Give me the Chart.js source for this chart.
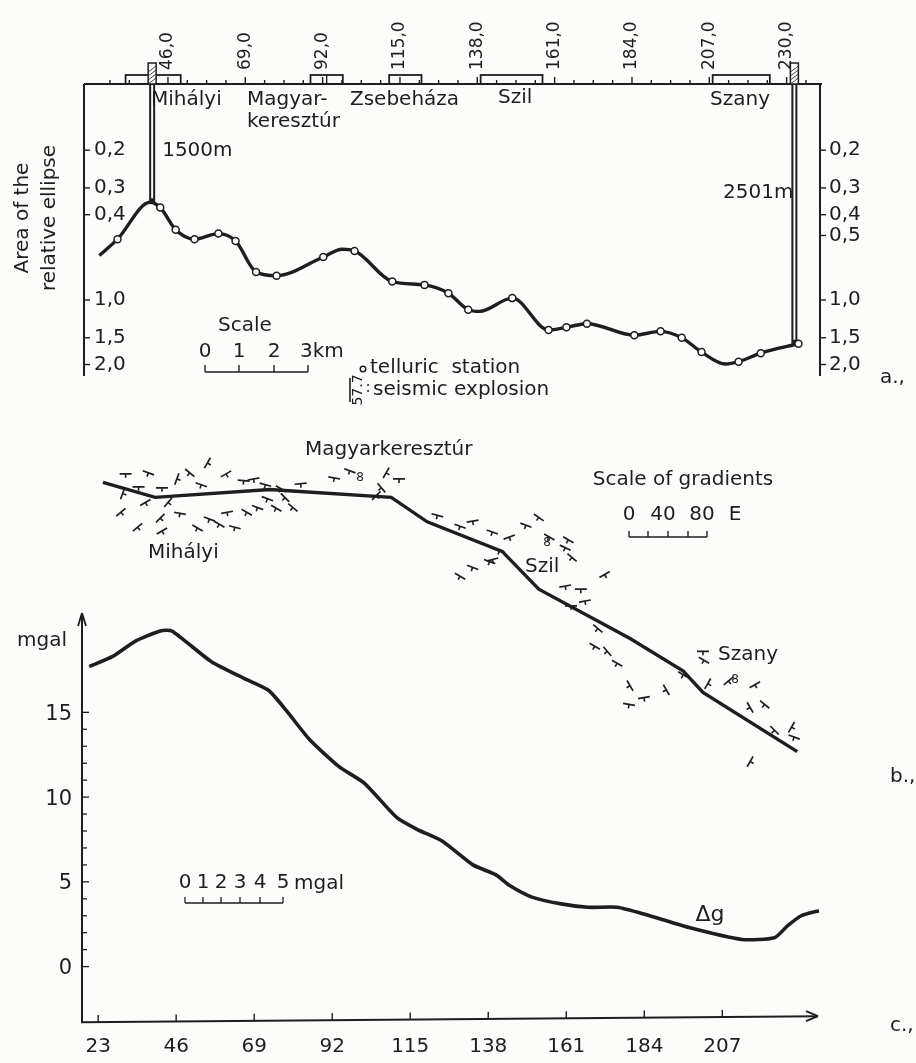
<!DOCTYPE html>
<html>
<head>
<meta charset="utf-8">
<script src="https://cdn.jsdelivr.net/npm/chart.js@4.4.0/dist/chart.umd.min.js"></script>
<style>
  html, body { margin: 0; padding: 0; background: #fcfcfb; }
  #wrap { width: 916px; height: 1063px; }
</style>
</head>
<body>
<div id="wrap"><canvas id="myChart" width="916" height="1063"></canvas></div>
<script>
// a) area of the relative ellipse along the profile (stations, station distance units)
var profileX = [25.6, 31.0, 40.7, 43.7, 48.3, 53.9, 61.0, 66.1, 72.2, 78.3, 92.2, 97.8, 101.5, 112.7, 122.3,
    129.4, 135.3, 138.7, 148.4, 159.2, 164.5, 170.6, 184.7, 192.5, 198.8, 204.7, 211.8, 215.7, 222.3, 233.5];
var profileArea = [0.62, 0.52, 0.35, 0.37, 0.47, 0.52, 0.49, 0.53, 0.74, 0.77, 0.63, 0.58, 0.59, 0.82, 0.85,
    0.93, 1.11, 1.13, 0.98, 1.38, 1.34, 1.29, 1.46, 1.40, 1.50, 1.75, 1.99, 1.94, 1.77, 1.60];
var isStation = [0, 1, 0, 1, 1, 1, 1, 1, 1, 1, 1, 0, 1, 1, 1, 1, 1, 0, 1, 1, 1, 1, 1, 1, 1, 1, 0, 1, 1, 1];
var topTicks = [46, 69, 92, 115, 138, 161, 184, 207, 230];
var topTickLabels = ['46,0', '69,0', '92,0', '115,0', '138,0', '161,0', '184,0', '207,0', '230,0'];
var leftTicks = [0.2, 0.3, 0.4, 1.0, 1.5, 2.0];
var leftTickLabels = ['0,2', '0,3', '0,4', '1,0', '1,5', '2,0'];
var rightTicks = [0.2, 0.3, 0.4, 0.5, 1.0, 1.5, 2.0];
var rightTickLabels = ['0,2', '0,3', '0,4', '0,5', '1,0', '1,5', '2,0'];
var siteStart = [33.4, 88.4, 111.8, 139.0, 208.0];
var siteEnd = [49.8, 98.0, 121.4, 157.4, 225.0];
var wellX = [41.3, 232.3];
var wellBottom = [0.35, 1.6];
var wellLabels = ['1500m', '2501m'];

// b) line of the gradient map and gradient marks
var gradLineX = [24.4, 39.8, 73.6, 81.3, 109.4, 120.0, 142.1, 152.9, 179.8, 195.5, 201.3, 229.1];
var gradLineY = [160.4, 156.0, 158.3, 157.8, 156.0, 148.8, 140.1, 129.0, 114.5, 104.9, 98.6, 81.2];
var gradX = [31.1, 37.8, 34.9, 41.8, 46.2, 50.0, 55.2, 60.7, 53.4, 65.9, 72.3, 82.7, 76.9, 68.8,
    30.2, 29.7, 36.9, 43.6, 34.6, 41.3, 41.8, 47.1, 52.3, 55.8, 58.7, 63.3, 61.0, 66.8, 70.0, 75.5, 80.4, 72.9, 78.1,
    92.6, 97.2, 107.9, 111.7, 106.5, 105.0,
    123.0, 129.7, 133.4, 139.2, 144.2, 129.7, 133.4, 139.2, 141.3,
    149.1, 152.9, 156.0, 161.6, 160.7, 162.7, 172.3, 138.4, 160.7, 165.3, 166.5, 162.4, 170.3,
    169.4, 173.1, 176.0, 179.8, 183.9, 179.5, 190.5, 195.5, 201.3, 201.6, 208.8, 216.6, 215.2, 219.5, 222.4,
    227.4, 228.2, 215.2, 202.7];
var gradY = [162.9, 163.2, 159.1, 158.8, 161.4, 163.2, 166.1, 162.9, 159.7, 160.9, 159.7, 160.0, 158.5, 161.4,
    157.1, 151.6, 154.5, 154.5, 147.2, 149.9, 146.1, 151.3, 147.0, 149.6, 148.1, 147.2, 151.6, 151.6, 153.0, 152.8, 153.0, 155.6, 155.9,
    161.7, 163.8, 163.2, 161.4, 158.8, 156.5,
    150.7, 147.5, 149.0, 145.8, 144.3, 132.8, 135.4, 137.7, 140.3,
    147.8, 150.1, 144.3, 143.5, 141.2, 138.3, 133.3, 137.1, 129.9, 129.0, 125.5, 124.1, 117.4,
    112.2, 110.7, 107.2, 100.6, 97.1, 95.1, 99.4, 103.8, 110.7, 108.1, 102.0, 100.9, 94.2, 95.1, 87.5,
    88.4, 85.5, 78.3, 101.2];
var gradAngle = [0, 20, 0, 0, -70, 40, -60, -30, 20, 5, 15, -5, 30, -10,
    -70, -40, -30, -50, -40, -45, -30, 10, 30, 20, 30, 15, -10, 30, 20, 30, 40, 20, 45,
    10, 20, -60, 0, 50, -45,
    15, 20, -10, 20, -20, 30, 20, -15, 20,
    20, 35, 30, 30, 25, 40, -30, 20, -10, 0, -10, 0, 40,
    30, 50, 30, 60, -10, 10, 60, 30, 0, 30, -40, -30, 60, 40, 45,
    -60, 20, -60, -60];

// c) gravity anomaly
var gravX = [20.4, 27.3, 34.0, 41.3, 44.7, 56.3, 66.0, 73.2, 78.5, 85.3, 94.0, 101.6, 111.0, 117.0, 124.5,
    133.5, 140.4, 144.2, 150.9, 159.5, 167.4, 176.0, 183.9, 197.2, 212.8, 222.4, 226.2, 230.3, 235.5];
var gravMgal = [17.7, 18.3, 19.2, 19.8, 19.8, 18.0, 17.0, 16.3, 15.1, 13.4, 11.8, 10.8, 8.8, 8.1, 7.4,
    6.0, 5.4, 4.8, 4.1, 3.7, 3.5, 3.5, 3.1, 2.3, 1.6, 1.7, 2.4, 3.0, 3.3];
var gravTicks = [23, 46, 69, 92, 115, 138, 161, 184, 207];
var mgalTicks = [0, 5, 10, 15];

var INK = '#1e1e1e';
var FONT = '"DejaVu Sans", sans-serif';

function pts(xs, ys) {
    return xs.map(function (x, i) { return { x: x, y: ys[i] }; });
}

function seg(c, x1, y1, x2, y2, w) {
    c.lineWidth = w;
    c.beginPath();
    c.moveTo(x1, y1);
    c.lineTo(x2, y2);
    c.stroke();
}

function txt(c, s, x, y, size, align) {
    c.font = size + 'px ' + FONT;
    c.textAlign = align || 'left';
    c.textBaseline = 'middle';
    c.fillText(s, x, y);
}

var decor = {
    id: 'decor',
    beforeDatasetsDraw: function (chart) {
        var c = chart.ctx, s = chart.scales;
        var xa = s.xa, ya = s.ya, xc = s.xc, yc = s.yc;
        c.save();
        c.strokeStyle = INK;
        c.fillStyle = INK;

        // ---- panel a
        var topY = 84, leftX = 84, rightX = 820, bottomA = 376;
        seg(c, leftX, topY, xa.getPixelForValue(240.5), topY, 2);
        seg(c, leftX, topY, leftX, bottomA, 2);
        seg(c, rightX, topY, rightX, bottomA, 2);
        for (var v = 28.75; v < 238; v += 5.75) {
            var major = Math.abs(v / 23 - Math.round(v / 23)) < 1e-6;
            var px = xa.getPixelForValue(v);
            seg(c, px, topY, px, topY - (major ? 7 : 4), 1.4);
        }
        topTicks.forEach(function (t, i) {
            c.save();
            c.translate(xa.getPixelForValue(t), 70);
            c.rotate(-Math.PI / 2);
            txt(c, topTickLabels[i], 0, 0, 17, 'left');
            c.restore();
        });
        siteStart.forEach(function (a, i) {
            var x1 = xa.getPixelForValue(a), x2 = xa.getPixelForValue(siteEnd[i]);
            c.lineWidth = 1.8;
            c.strokeRect(x1, 75, x2 - x1, topY - 75);
            if (i === 1) seg(c, (x1 + x2) / 2, 75, (x1 + x2) / 2, topY, 1.4);
        });
        wellX.forEach(function (w, i) {
            var px = xa.getPixelForValue(w);
            var by = ya.getPixelForValue(wellBottom[i]);
            c.fillStyle = '#fcfcfb';
            c.fillRect(px - 4, 63, 8, topY - 63);
            c.lineWidth = 1.5;
            c.strokeRect(px - 4, 63, 8, topY - 63);
            c.fillStyle = INK;
            for (var k = 0; k < 4; k++) seg(c, px - 4, 72 + k * 4, px + 4, 66 + k * 4, 0.8);
            seg(c, px, topY, px, by, 6);
            c.strokeStyle = '#fcfcfb';
            seg(c, px, topY + 1, px, by - 4, 2);
            c.strokeStyle = INK;
        });
        txt(c, wellLabels[0], xa.getPixelForValue(wellX[0]) + 10, 151, 20);
        txt(c, wellLabels[1], xa.getPixelForValue(wellX[1]) - 1, 193, 20, 'right');
        leftTicks.forEach(function (t, i) {
            var py = ya.getPixelForValue(t);
            seg(c, leftX, py, leftX + 6, py, 1.4);
            txt(c, leftTickLabels[i], leftX + 10, py, 20);
        });
        rightTicks.forEach(function (t, i) {
            var py = ya.getPixelForValue(t);
            seg(c, rightX, py, rightX + 6, py, 1.4);
            txt(c, rightTickLabels[i], rightX + 9, py, 20);
        });
        c.save();
        c.translate(23, 218);
        c.rotate(-Math.PI / 2);
        txt(c, 'Area of the', 0, 0, 20, 'center');
        txt(c, 'relative ellipse', 0, 27, 20, 'center');
        c.restore();
        txt(c, 'Mihályi', 151, 100, 20);
        txt(c, 'Magyar-', 247, 100, 20);
        txt(c, 'keresztúr', 247, 122, 20);
        txt(c, 'Zsebeháza', 350, 100, 20);
        txt(c, 'Szil', 498, 98, 20);
        txt(c, 'Szany', 710, 100, 20);
        // scale bar
        txt(c, 'Scale', 245, 326, 20, 'center');
        txt(c, '0', 205, 352, 20, 'center');
        txt(c, '1', 239, 352, 20, 'center');
        txt(c, '2', 274, 352, 20, 'center');
        txt(c, '3km', 300, 352, 20);
        seg(c, 205, 372, 308, 372, 1.6);
        [205, 239, 274, 308].forEach(function (x) { seg(c, x, 372, x, 365, 1.4); });
        // legend
        c.lineWidth = 1.4;
        c.beginPath(); c.arc(363, 369, 2.8, 0, Math.PI * 2); c.stroke();
        txt(c, 'telluric  station', 370, 368, 20);
        seg(c, 350, 378, 350, 402, 1.6);
        c.save();
        c.translate(358, 390);
        c.rotate(-Math.PI / 2);
        txt(c, '57.7', 0, 0, 14, 'center');
        c.restore();
        txt(c, ':', 368, 388, 15, 'center');
        txt(c, 'seismic explosion', 373, 390, 20);
        txt(c, 'a.,', 880, 378, 20);

        // ---- panel b
        txt(c, 'Magyarkeresztúr', 305, 450, 20);
        txt(c, 'Mihályi', 148, 553, 20);
        txt(c, 'Szil', 525, 567, 20);
        txt(c, 'Szany', 718, 655, 20);
        txt(c, '8', 360, 478, 12, 'center');
        txt(c, '8', 547, 543, 12, 'center');
        txt(c, '8', 735, 680, 12, 'center');
        txt(c, 'Scale of gradients', 683, 480, 20, 'center');
        txt(c, '0', 629, 515, 20, 'center');
        txt(c, '40', 663, 515, 20, 'center');
        txt(c, '80', 702, 515, 20, 'center');
        txt(c, 'E', 735, 515, 20, 'center');
        seg(c, 629, 537, 707, 537, 1.6);
        [629, 648, 668, 688, 707].forEach(function (x) { seg(c, x, 537, x, 531, 1.4); });
        txt(c, 'b.,', 890, 777, 20);

        // ---- panel c
        var axY = yc.getPixelForValue(-3.1), axX = 82;
        seg(c, axX, axY + 3, axX, 613, 2);
        seg(c, axX, 613, axX - 4, 626, 1.8);
        seg(c, axX, 613, axX + 4, 626, 1.8);
        seg(c, axX - 1, axY + 3, 818, axY - 3, 2);
        seg(c, 818, axY - 3, 806, axY - 8, 1.8);
        seg(c, 818, axY - 3, 806, axY + 2, 1.8);
        for (var m = 0; m <= 15; m++) {
            var my = yc.getPixelForValue(m);
            seg(c, axX, my, axX + (m % 5 === 0 ? 7 : 5), my, 1.3);
        }
        mgalTicks.forEach(function (t) {
            txt(c, String(t), 72, yc.getPixelForValue(t) + 2, 21, 'right');
        });
        gravTicks.forEach(function (t, i) {
            var px = xc.getPixelForValue(t);
            var base = axY + 3 - (px - axX) * 6 / (818 - axX);
            seg(c, px, base, px, base - 7, 1.4);
            txt(c, String(t), px, 1047, 20, 'center');
        });
        txt(c, 'mgal', 42, 641, 20, 'center');
        txt(c, 'Δg', 710, 915, 22, 'center');
        txt(c, 'c.,', 890, 1026, 20);
        var digs = [185, 203, 221, 240, 260, 283];
        digs.forEach(function (x, i) { txt(c, String(i), x, 883, 20, 'center'); });
        txt(c, 'mgal', 294, 884, 20);
        seg(c, 185, 903, 283, 903, 1.6);
        digs.forEach(function (x) { seg(c, x, 903, x, 897, 1.3); });

        c.restore();
    }
};

new Chart(document.getElementById('myChart'), {
    type: 'scatter',
    data: {
        datasets: [{
            label: 'Area of the relative ellipse',
            data: pts(profileX, profileArea),
            xAxisID: 'xa', yAxisID: 'ya',
            showLine: true,
            borderColor: INK, borderWidth: 3.4,
            cubicInterpolationMode: 'monotone',
            pointRadius: isStation.map(function (f) { return f ? 3.5 : 0; }),
            pointBackgroundColor: '#fcfcfb', pointBorderColor: INK, pointBorderWidth: 1.5
        }, {
            label: 'gradient line',
            data: pts(gradLineX, gradLineY),
            xAxisID: 'xc', yAxisID: 'yb',
            showLine: true,
            borderColor: INK, borderWidth: 3.4,
            pointRadius: 0
        }, {
            label: 'gradients',
            data: pts(gradX, gradY),
            xAxisID: 'xc', yAxisID: 'yb',
            pointStyle: 'line', pointRadius: 6,
            rotation: gradAngle,
            borderColor: INK, borderWidth: 1.7
        }, {
            label: 'gradient stems',
            data: pts(gradX, gradY),
            xAxisID: 'xc', yAxisID: 'yb',
            pointStyle: 'dash', pointRadius: 4,
            rotation: gradAngle.map(function (a) { return a + 90; }),
            borderColor: INK, borderWidth: 1.6
        }, {
            label: 'Δg',
            data: pts(gravX, gravMgal),
            xAxisID: 'xc', yAxisID: 'yc',
            showLine: true,
            borderColor: INK, borderWidth: 3.6,
            tension: 0.2,
            pointRadius: 0
        }]
    },
    options: {
        responsive: false,
        animation: false,
        layout: { padding: 0 },
        plugins: { legend: { display: false }, tooltip: { enabled: false } },
        scales: {
            xa: { type: 'linear', axis: 'x', display: false, bounds: 'data', min: -1.66, max: 266.18 },
            xc: { type: 'linear', axis: 'x', display: false, bounds: 'data', min: -3.67, max: 261.84 },
            ya: { type: 'logarithmic', axis: 'y', display: false, bounds: 'data', reverse: true, min: 0.04328, max: 3340 },
            yb: { type: 'linear', axis: 'y', display: false, bounds: 'data', min: -8.1, max: 300 },
            yc: { type: 'linear', axis: 'y', display: false, bounds: 'data', min: -5.233, max: 56.57 }
        }
    },
    plugins: [decor]
});
</script>
</body>
</html>
